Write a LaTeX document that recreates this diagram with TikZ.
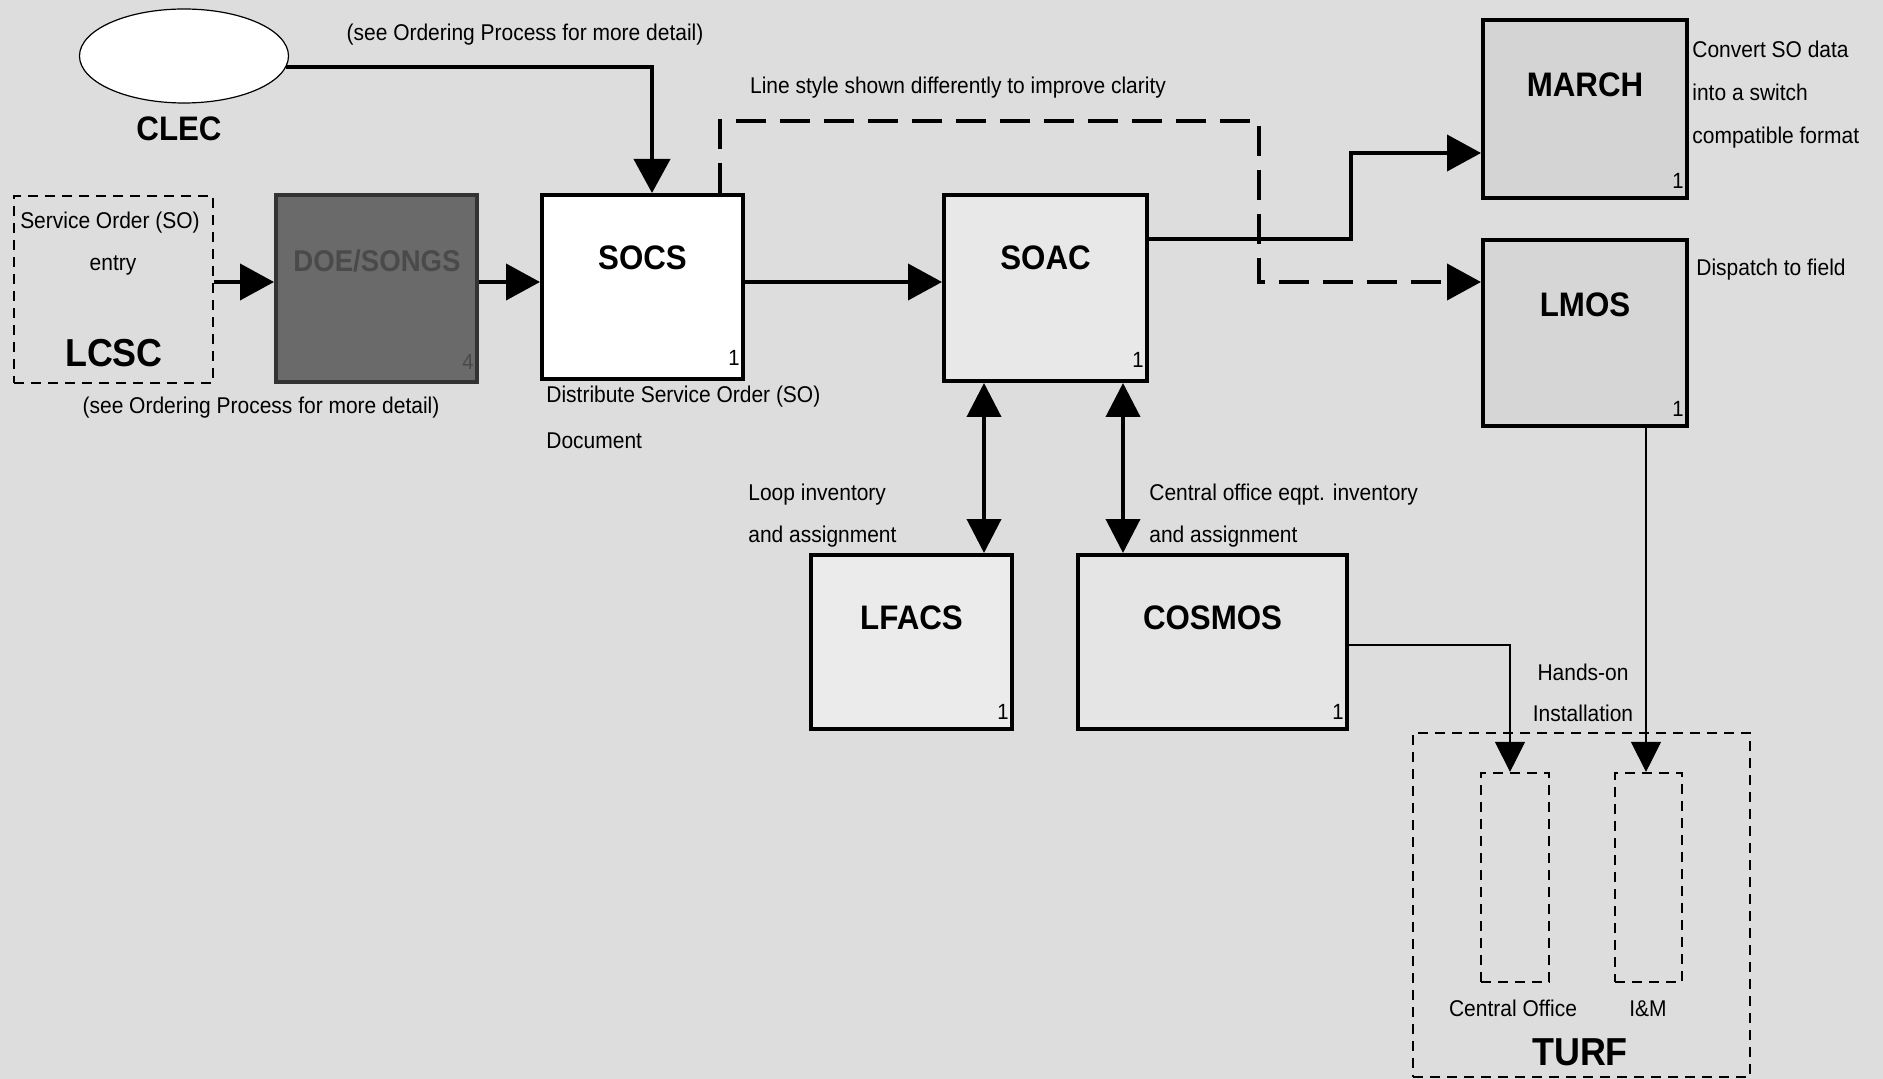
\documentclass[tikz,border=0pt]{standalone}
\usepackage{fontspec}
\setmainfont{Liberation Sans}[FakeStretch=0.92]
\usetikzlibrary{arrows.meta,fit,shapes.geometric}
\definecolor{bg}{HTML}{DDDDDD}
\definecolor{doefill}{HTML}{6A6A6A}
\definecolor{doetext}{HTML}{4A4A4A}
\begin{document}
\begin{tikzpicture}[x=0.5pt,y=-0.5pt,
  box/.style={draw=black, line width=2pt, inner sep=0pt, fill=#1},
  box/.default=white,
  dbox/.style={draw=black, line width=1.1pt, inner sep=0pt, dash pattern=on 5pt off 3.5pt},
  bigl/.style={font=\bfseries\fontsize{17}{20}\selectfont, inner sep=0pt, yshift=-1.2pt},
  biggerl/.style={font=\bfseries\fontsize{19.5}{22}\selectfont, inner sep=0pt, yshift=-1.2pt},
  small/.style={font=\fontsize{11.4}{13}\selectfont, inner sep=0pt, yshift=-1.3pt},
  num/.style={font=\fontsize{11}{13}\selectfont, inner sep=0pt},
  arr/.style={line width=2pt, -{Triangle[length=17pt,width=18pt]}},
  darr/.style={line width=2pt, {Triangle[length=17pt,width=17pt]}-{Triangle[length=17pt,width=17pt]}},
  dasharr/.style={arr, dash pattern=on 15pt off 7pt},
  thinarr/.style={line width=0.6pt, -{Triangle[length=15pt,width=15pt]}}
]
\fill[bg] (0,0) rectangle (1883,1079);
\useasboundingbox (0,0) rectangle (1883,1079);

% CLEC
\node[ellipse, draw, line width=0.6pt, fill=white, minimum width=104.5pt, minimum height=47pt, inner sep=0pt] (clec) at (184,56) {};
\node[bigl] (clecT) at (179,126) {CLEC};
\node[small] (note1) at (525,32) {(see Ordering Process for more detail)};

% LCSC
\node[dbox, fit={(14,196) (213,383)}] (lcsc) {};
\node[small] (lcsc1) at (110,220) {Service Order (SO)};
\node[small] (lcsc2) at (113,263) {entry};
\node[biggerl] (lcscT) at (114,351) {LCSC};
\node[small] (note2) at (261,405) {(see Ordering Process for more detail)};

% DOE/SONGS
\node[box=doefill, draw=black!80, fit={(276,195) (477,382)}] (doe) {};
\node[font=\bfseries\fontsize{15}{18}\selectfont, text=doetext, inner sep=0pt] (doeT) at (377,261) {DOE/SONGS};
\node[num, text=doetext] (doeN) at ([xshift=-5.5pt,yshift=11pt]doe.south east) {4};

% SOCS
\node[box=white, fit={(542,195) (743,379)}] (socs) {};
\node[bigl] (socsT) at ([yshift=-31pt]socs.north) {SOCS};
\node[num] (socsN) at ([xshift=-5.5pt,yshift=11.5pt]socs.south east) {1};
\node[small, anchor=west] (dist1) at (546,394) {Distribute Service Order (SO)};
\node[small, anchor=west] (dist2) at (546,438) {Document};

% SOAC
\node[box=black!9, fit={(944,195) (1147,381)}] (soac) {};
\node[bigl] (soacT) at ([yshift=-31pt]soac.north) {SOAC};
\node[num] (soacN) at ([xshift=-5.5pt,yshift=11.5pt]soac.south east) {1};

% MARCH
\node[box=black!17, fit={(1483,20) (1687,198)}] (march) {};
\node[bigl] (marchT) at ([yshift=-32pt]march.north) {MARCH};
\node[num] (marchN) at ([xshift=-5.5pt,yshift=9.5pt]march.south east) {1};
\node[small, anchor=west] (conv1) at (1692,47) {Convert SO data};
\node[small, anchor=west] (conv2) at (1692,90) {into a switch};
\node[small, anchor=west] (conv3) at (1692,135) {compatible format};

% LMOS
\node[box=black!16, fit={(1483,240) (1687,426)}] (lmos) {};
\node[bigl] (lmosT) at ([yshift=-32pt]lmos.north) {LMOS};
\node[num] (lmosN) at ([xshift=-5.5pt,yshift=9.5pt]lmos.south east) {1};
\node[small, anchor=west] (disp) at (1696,267) {Dispatch to field};

% LFACS
\node[box=black!8, fit={(811,555) (1012,729)}] (lfacs) {};
\node[bigl] (lfacsT) at ([yshift=-31pt]lfacs.north) {LFACS};
\node[num] (lfacsN) at ([xshift=-5.5pt,yshift=9.5pt]lfacs.south east) {1};

% COSMOS
\node[box=black!10, fit={(1078,555) (1347,729)}] (cosmos) {};
\node[bigl] (cosmosT) at ([yshift=-31pt]cosmos.north) {COSMOS};
\node[num] (cosmosN) at ([xshift=-5.5pt,yshift=9.5pt]cosmos.south east) {1};

\node[small, anchor=west] (loop1) at (748,492) {Loop inventory};
\node[small, anchor=west] (loop2) at (748,534) {and assignment};
\node[small, anchor=west] (cent1) at (1149,492) {Central office eqpt. inventory};
\node[small, anchor=west] (cent2) at (1149,534) {and assignment};

% TURF
\node[dbox, fit={(1413,733) (1750,1077)}] (turf) {};
\node[dbox, fit={(1481,773) (1549,982)}] (co) {};
\node[dbox, fit={(1615,773) (1682,982)}] (im) {};
\node[small] (coT) at (1513,1006) {Central Office};
\node[small] (imT) at (1648,1006) {I\&M};
\node[biggerl] (turfT) at (1580,1050) {TURF};
\node[small] (hands1) at (1583,670) {Hands-on};
\node[small] (hands2) at (1583,711) {Installation};

\node[small] (note3) at (958,85) {Line style shown differently to improve clarity};

% connectors
\coordinate (c1) at (652,0);
\draw[arr] (clec.-6) -| (c1 |- socs.north);
\coordinate (r1) at (0,282);
\draw[arr] (lcsc.east |- r1) -- (doe.west |- r1);
\draw[arr] (doe.east |- r1) -- (socs.west |- r1);
\draw[arr] (socs.east |- r1) -- (soac.west |- r1);

\coordinate (d1) at (720,121);
\coordinate (d2) at (1259,121);
\coordinate (d3) at (1259,282);
\draw[dasharr] (d1 |- socs.north) -- (d1) -- (d2) -- (d3) -- (d3 -| lmos.west);

\coordinate (m1) at (1351,239);
\coordinate (m2) at (1351,153);
\draw[arr] (m1 -| soac.east) -- (m1) -- (m2) -- (m2 -| march.west);

\coordinate (b1) at (984,0);
\coordinate (b2) at (1123,0);
\draw[darr] (b1 |- soac.south) -- (b1 |- lfacs.north);
\draw[darr] (b2 |- soac.south) -- (b2 |- cosmos.north);

\coordinate (h1) at (1510,645);
\draw[thinarr] (h1 -| cosmos.east) -- (h1) -- (h1 |- co.north);
\coordinate (h2) at (1646,0);
\draw[thinarr] (h2 |- lmos.south) -- (h2 |- im.north);
\end{tikzpicture}
\end{document}
